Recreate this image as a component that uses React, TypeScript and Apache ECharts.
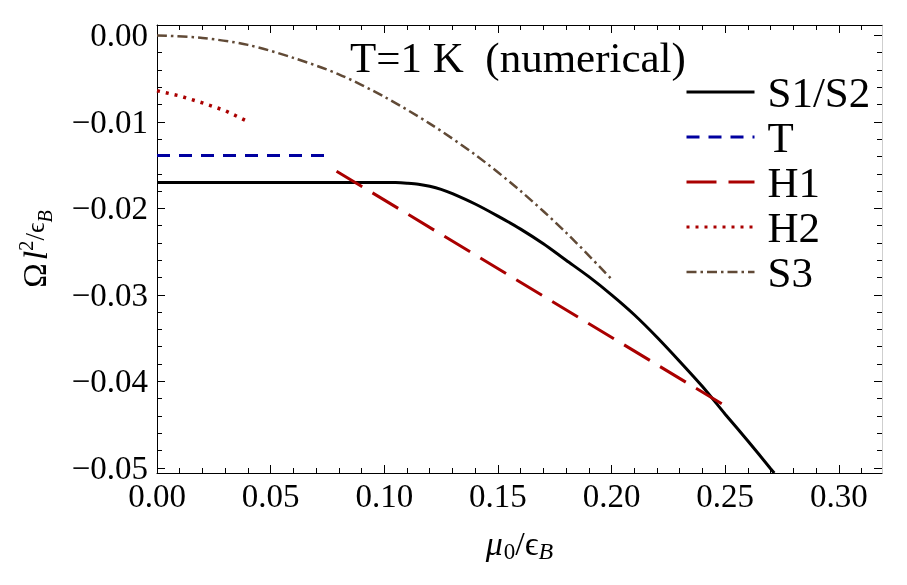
import React, { useEffect, useRef } from 'react';
import * as echarts from 'echarts';

const FONT = 'Liberation Serif';

// Axis ranges and tick positions
const xRange = [0, 0.319];
const yRange = [-0.0506, 0.0012];
const xMajorTicks = [0, 0.05, 0.1, 0.15, 0.2, 0.25, 0.3];
const xMinorTicks = [
  0.01, 0.02, 0.03, 0.04, 0.06, 0.07, 0.08, 0.09, 0.11, 0.12, 0.13, 0.14,
  0.16, 0.17, 0.18, 0.19, 0.21, 0.22, 0.23, 0.24, 0.26, 0.27, 0.28, 0.29, 0.31,
];
const yMajorTicks = [-0.05, -0.04, -0.03, -0.02, -0.01, 0];
const yMinorTicks = [
  -0.048, -0.046, -0.044, -0.042, -0.038, -0.036, -0.034, -0.032,
  -0.028, -0.026, -0.024, -0.022, -0.018, -0.016, -0.014, -0.012,
  -0.008, -0.006, -0.004, -0.002,
];

// S1/S2 phase
const s12X = [0, 0.05, 0.1, 0.105, 0.11, 0.115, 0.12, 0.125, 0.13, 0.14, 0.15, 0.16, 0.17, 0.18, 0.19, 0.2, 0.21, 0.22, 0.23, 0.24, 0.25, 0.26, 0.27, 0.2716];
const s12Y = [-0.017, -0.017, -0.017, -0.01702, -0.0171, -0.01722, -0.01745, -0.0178, -0.0183, -0.0195, -0.0209, -0.0224, -0.0241, -0.026, -0.0279, -0.03, -0.0323, -0.0349, -0.0377, -0.0406, -0.0438, -0.0469, -0.0501, -0.0506];
// T phase
const tX = [0, 0.0735];
const tY = [-0.0139, -0.0139];
// H1 phase
const h1X = [0.079, 0.251];
const h1Y = [-0.0157, -0.043];
// H2 phase
const h2X = [0, 0.01, 0.02, 0.03, 0.0395];
const h2Y = [-0.0064, -0.007, -0.0078, -0.0087, -0.0099];
// S3 phase
const s3X = [0, 0.02, 0.04, 0.06, 0.08, 0.1, 0.12, 0.14, 0.16, 0.18, 0.2];
const s3Y = [0, -0.0003, -0.0011, -0.0026, -0.0045, -0.0071, -0.0102, -0.0138, -0.018, -0.0228, -0.0282];

const pairs = (xs: number[], ys: number[]) => xs.map((x, i) => [x, ys[i]]);

const C_BLACK = '#000000';
const C_BLUE = '#0000a0';
const C_RED = '#aa0000';
const C_BROWN = '#614a36';

const fmtX = (v: number) => v.toFixed(2);
const fmtY = (v: number) => (Math.abs(v) < 1e-9 ? '0.00' : '\u2212' + Math.abs(v).toFixed(2));

function xAxisDef(position: 'top' | 'bottom', ticks: number[], length: number, main: boolean, lineColor: string) {
  return {
    type: 'value',
    position,
    min: xRange[0],
    max: xRange[1],
    splitLine: { show: false },
    axisLine: { show: !!lineColor, onZero: false, lineStyle: { color: lineColor || '#000', width: 1 } },
    axisTick: { show: true, inside: true, length, customValues: ticks, lineStyle: { color: '#000', width: 1 } },
    axisLabel: main
      ? { show: true, customValues: ticks, formatter: fmtX, margin: 6, fontFamily: FONT, fontSize: 33, color: '#000' }
      : { show: false },
    ...(main
      ? {
          name: '{m|μ}{s0|0}{sl|/}{e|ϵ}{sb|B}',
          nameLocation: 'middle',
          nameGap: 50,
          nameTextStyle: {
            color: '#000',
            fontFamily: FONT,
            rich: {
              m: { fontFamily: FONT, fontStyle: 'italic', fontSize: 34, lineHeight: 40, verticalAlign: 'middle' },
              s0: { fontFamily: FONT, fontSize: 23, lineHeight: 40, verticalAlign: 'bottom', padding: [0, 0, 0, 1] },
              sl: { fontFamily: FONT, fontSize: 34, lineHeight: 40, verticalAlign: 'middle' },
              e: { fontFamily: FONT, fontSize: 34, lineHeight: 40, verticalAlign: 'middle' },
              sb: { fontFamily: FONT, fontStyle: 'italic', fontSize: 24, lineHeight: 40, verticalAlign: 'bottom' },
            },
          },
        }
      : {}),
  };
}

function yAxisDef(position: 'left' | 'right', ticks: number[], length: number, main: boolean, lineColor: string) {
  return {
    type: 'value',
    position,
    min: yRange[0],
    max: yRange[1],
    splitLine: { show: false },
    axisLine: { show: !!lineColor, onZero: false, lineStyle: { color: lineColor || '#000', width: 1 } },
    axisTick: { show: true, inside: true, length, customValues: ticks, lineStyle: { color: '#000', width: 1 } },
    axisLabel: main
      ? { show: true, customValues: ticks, formatter: fmtY, margin: 9, fontFamily: FONT, fontSize: 33, color: '#000' }
      : { show: false },
    ...(main
      ? {
          name: '{o|Ω} {l|l}{sp|2}{sl|/}{e|ϵ}{sb|B}',
          nameLocation: 'middle',
          nameRotate: 90,
          nameGap: 102,
          nameTextStyle: {
            color: '#000',
            fontFamily: FONT,
            rich: {
              o: { fontFamily: FONT, fontSize: 33, lineHeight: 40, verticalAlign: 'middle' },
              l: { fontFamily: FONT, fontStyle: 'italic', fontSize: 34, lineHeight: 40, verticalAlign: 'middle' },
              sp: { fontFamily: FONT, fontSize: 21, lineHeight: 40, verticalAlign: 'top' },
              sl: { fontFamily: FONT, fontSize: 27, lineHeight: 40, verticalAlign: 'middle' },
              e: { fontFamily: FONT, fontSize: 26, lineHeight: 40, verticalAlign: 'middle' },
              sb: { fontFamily: FONT, fontStyle: 'italic', fontSize: 20, lineHeight: 40, verticalAlign: 'bottom' },
            },
          },
        }
      : {}),
  };
}

function lineSeries(name: string, data: number[][], color: string, width: number, dash: number[] | 'solid', smooth = false) {
  return {
    name,
    type: 'line',
    data,
    xAxisIndex: 0,
    yAxisIndex: 0,
    symbol: 'none',
    showSymbol: false,
    smooth: smooth ? 0.3 : false,
    lineStyle: { color, width, type: dash },
    itemStyle: { color },
  };
}

export default function App() {
  const ref = useRef<HTMLDivElement>(null);

  useEffect(() => {
    if (!ref.current) return;
    const chart = echarts.init(ref.current, undefined, { renderer: 'svg' });
    chart.setOption({
      animation: false,
      grid: { left: 157, right: 25, top: 25, bottom: 112 },
      graphic: [
        {
          type: 'text',
          left: 350,
          top: 36,
          style: { text: 'T=1 K  (numerical)', fontFamily: FONT, fontSize: 43, fill: '#000' },
        },
      ],
      legend: {
        orient: 'vertical',
        left: 685,
        top: 70,
        padding: 0,
        itemWidth: 68,
        itemHeight: 14,
        itemGap: 1,
        selectedMode: false,
        itemStyle: { opacity: 0 },
        lineStyle: { width: 3 },
        textStyle: { fontFamily: FONT, fontSize: 43, lineHeight: 44, color: '#000', padding: [0, 0, 0, 8] },
        data: [
          { name: 'S1/S2' },
          { name: 'T' },
          { name: 'H1' },
          { name: 'H2' },
          { name: 'S3', lineStyle: { width: 2.5 } },
        ],
      },
      xAxis: [
        xAxisDef('bottom', xMajorTicks, 8, true, '#000'),
        xAxisDef('bottom', xMinorTicks, 5, false, ''),
        xAxisDef('top', xMajorTicks, 8, false, '#000'),
        xAxisDef('top', xMinorTicks, 5, false, ''),
      ],
      yAxis: [
        yAxisDef('left', yMajorTicks, 8, true, '#000'),
        yAxisDef('left', yMinorTicks, 5, false, ''),
        yAxisDef('right', yMajorTicks, 8, false, '#cfcfcf'),
        yAxisDef('right', yMinorTicks, 5, false, ''),
      ],
      series: [
        lineSeries('S1/S2', pairs(s12X, s12Y), C_BLACK, 3, 'solid', true),
        lineSeries('T', pairs(tX, tY), C_BLUE, 3, [13, 9]),
        lineSeries('H1', pairs(h1X, h1Y), C_RED, 3, [30, 12]),
        lineSeries('H2', pairs(h2X, h2Y), C_RED, 3.5, [3, 6]),
        lineSeries('S3', pairs(s3X, s3Y), C_BROWN, 2.5, [10, 4, 2.5, 4], true),
      ],
    });
    return () => chart.dispose();
  }, []);

  return <div ref={ref} style={{ position: 'fixed', left: 0, top: 0, width: 907, height: 585 }} />;
}
